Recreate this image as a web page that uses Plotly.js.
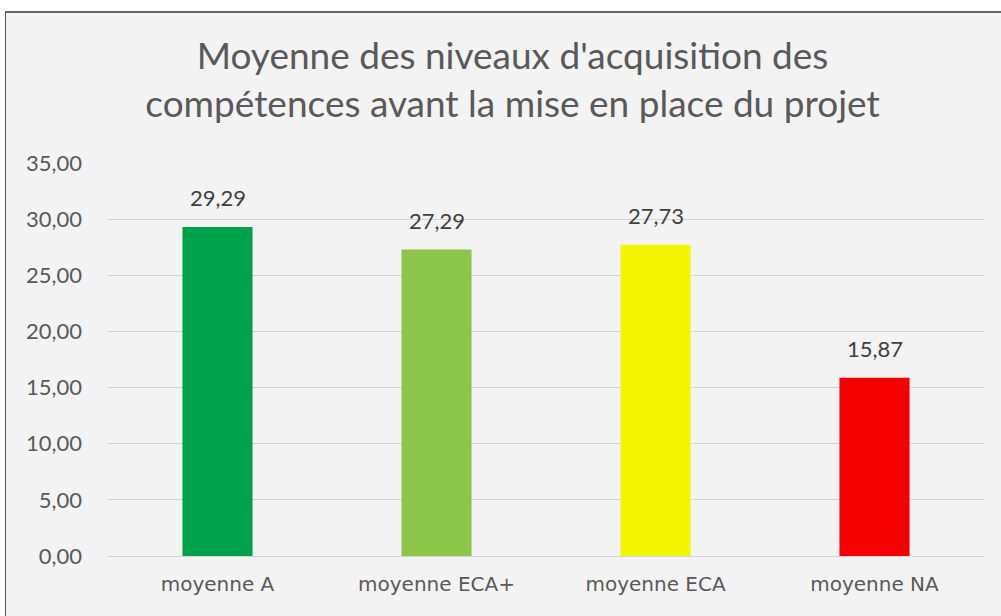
<!DOCTYPE html>
<html>
<head>
<meta charset="utf-8">
<script src="https://cdn.plot.ly/plotly-3.0.1.min.js"></script>
<style>
  html, body { margin: 0; padding: 0; background: #ffffff; width: 1001px; height: 616px; overflow: hidden; }
  #frame { position: absolute; left: 5px; top: 11px; width: 995px; height: 604px;
           border-left: 1px solid #555; border-top: 2px solid #666; background: #F3F3F3; }
  #chart { width: 995px; height: 604px; }
</style>
</head>
<body>
<div id="frame"><div id="chart"></div></div>
<script>
const categories = ["moyenne A", "moyenne ECA+", "moyenne ECA", "moyenne NA"];
const values = [29.29, 27.29, 27.73, 15.87];
const barColors = ["#00A14B", "#8BC64A", "#F5F500", "#F50000"];
const tickValues = [0, 5, 10, 15, 20, 25, 30, 35];
const tickLabels = ["0,00", "5,00", "10,00", "15,00", "20,00", "25,00", "30,00", "35,00"];
const titleText = "Moyenne des niveaux d'acquisition des<br>compétences avant la mise en place du projet";

const fmt = v => v.toFixed(2).replace(".", ",");

const trace = {
  type: "bar",
  x: categories,
  y: values,
  marker: { color: barColors },
  hoverinfo: "skip"
};

const annotations = categories.map((c, i) => ({
  x: c, y: values[i], xref: "x", yref: "y",
  text: fmt(values[i]), showarrow: false,
  yanchor: "bottom", yshift: 14,
  font: { family: "Lato, 'Open Sans', sans-serif", size: 22, color: "#404040" }
}));

const layout = {
  width: 995, height: 604,
  paper_bgcolor: "#F3F3F3",
  plot_bgcolor: "#F3F3F3",
  margin: { l: 102, r: 17, t: 150, b: 61 },
  bargap: 0.68,
  showlegend: false,
  title: {
    text: titleText,
    font: { family: "Lato, 'Open Sans', sans-serif", size: 37, color: "#595959" },
    x: 0.5 + 9 / 995, xanchor: "center",
    y: 1 - 56 / 604, yanchor: "middle", yref: "container"
  },
  xaxis: {
    type: "category",
    showgrid: false, showline: false, zeroline: false,
    ticks: "",
    tickfont: { family: "'DejaVu Sans', Verdana, sans-serif", size: 20, color: "#595959" },
    ticklabelstandoff: 14
  },
  yaxis: {
    range: [0, 35],
    tickvals: tickValues,
    ticktext: tickLabels,
    showgrid: true, gridcolor: "#D4D4D4", gridwidth: 1,
    zeroline: true, zerolinecolor: "#D4D4D4", zerolinewidth: 1,
    showline: false, ticks: "",
    tickfont: { family: "Lato, 'Open Sans', sans-serif", size: 22, color: "#595959" },
    ticklabelstandoff: 25
  },
  annotations: annotations
};

Plotly.newPlot("chart", [trace], layout, { displayModeBar: false, staticPlot: true });
</script>
</body>
</html>
